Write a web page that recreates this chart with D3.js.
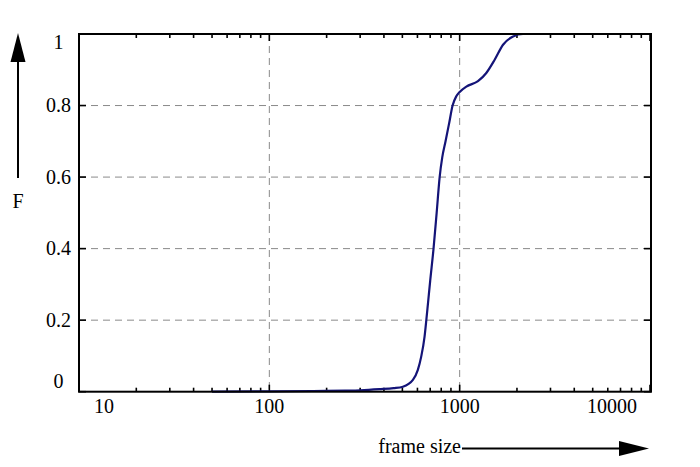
<!DOCTYPE html>
<html>
<head>
<meta charset="utf-8">
<script src="https://cdn.jsdelivr.net/npm/d3@7"></script>
<style>
html,body{margin:0;padding:0;background:#fff;}
svg{display:block;}
text{font-family:"Liberation Serif","Times New Roman",serif;font-size:20px;fill:#000;}
</style>
</head>
<body>
<svg id="chart" width="700" height="467"></svg>
<script>
// ---- data ----
const frameSize = [50, 100, 170, 250, 300, 379, 450, 503, 568, 603, 628, 654, 668, 681, 700, 729, 757, 785, 810, 843, 880, 918, 960, 1000, 1084, 1248, 1380, 1527, 1690, 1907, 2152, 3000, 4500];
const cdf       = [0, 0.001, 0.002, 0.003, 0.004, 0.007, 0.010, 0.014, 0.033, 0.061, 0.098, 0.154, 0.20, 0.245, 0.31, 0.40, 0.50, 0.60, 0.655, 0.70, 0.75, 0.80, 0.826, 0.838, 0.853, 0.868, 0.891, 0.928, 0.970, 0.993, 1.0, 1.0, 1.0];
const xTickValues = [10, 100, 1000, 10000];
const xTickLabels = ["10", "100", "1000", "10000"];
const yTickValues = [0, 0.2, 0.4, 0.6, 0.8, 1];
const yTickLabels = ["0", "0.2", "0.4", "0.6", "0.8", "1"];
const xGrid = [100, 1000];
const yGrid = [0.2, 0.4, 0.6, 0.8];
const xTitle = "frame size";
const yTitle = "F";

(function () {
const svg = d3.select("#chart");
const mL = 79, mR = 651, mT = 34, mB = 391.7;
const x = d3.scaleLog().domain([10, 10000]).range([mL, mR - 1]);
const y = d3.scaleLinear().domain([0, 1]).range([mB, mT]);

// grid
const g = svg.append("g");
g.selectAll("line.gx").data(xGrid).join("line")
  .attr("x1", d => x(d)).attr("x2", d => x(d)).attr("y1", mT).attr("y2", mB)
  .attr("stroke", "#8a8a8a").attr("stroke-width", 1).attr("stroke-dasharray", "7,5");
g.selectAll("line.gy").data(yGrid).join("line")
  .attr("x1", mL).attr("x2", mR).attr("y1", d => y(d)).attr("y2", d => y(d))
  .attr("stroke", "#8a8a8a").attr("stroke-width", 1).attr("stroke-dasharray", "7,5");

// minor + major x ticks (top and bottom)
const xMinor = [];
for (let dec = 10; dec < 10000; dec *= 10) for (let k = 2; k <= 9; k++) xMinor.push(dec * k);
const tk = svg.append("g").attr("stroke", "#000").attr("stroke-width", 1.6);
[[xMinor, 4], [xTickValues, 7]].forEach(([vals, len]) => {
  tk.selectAll(null).data(vals).join("line")
    .attr("x1", d => x(d)).attr("x2", d => x(d)).attr("y1", mB).attr("y2", mB - len);
  tk.selectAll(null).data(vals).join("line")
    .attr("x1", d => x(d)).attr("x2", d => x(d)).attr("y1", mT).attr("y2", mT + len);
});
tk.selectAll(null).data(yTickValues).join("line")
  .attr("x1", mL).attr("x2", mL + 7).attr("y1", d => y(d)).attr("y2", d => y(d));
tk.selectAll(null).data(yTickValues).join("line")
  .attr("x1", mR).attr("x2", mR - 7).attr("y1", d => y(d)).attr("y2", d => y(d));

// curve
const line = d3.line().x(d => x(d[0])).y(d => y(d[1])).curve(d3.curveMonotoneX);
svg.append("path").datum(frameSize.map((v, i) => [v, cdf[i]]))
  .attr("d", line).attr("fill", "none").attr("stroke", "#141478").attr("stroke-width", 2.2)
  .attr("stroke-linejoin", "round");

// frame
svg.append("rect").attr("x", mL).attr("y", mT).attr("width", mR - mL).attr("height", mB - mT)
  .attr("fill", "none").attr("stroke", "#000").attr("stroke-width", 2);

// x tick labels (kept inside frame)
svg.append("g").selectAll("text").data(xTickValues).join("text")
  .text((d, i) => xTickLabels[i])
  .attr("y", 413)
  .attr("text-anchor", "middle")
  .each(function (d) {
    const w = this.getComputedTextLength();
    const cx = Math.max(mL + 15 + w / 2, Math.min(mR - 14 - w / 2, x(d)));
    d3.select(this).attr("x", cx);
  });

// y tick labels (kept inside frame)
svg.append("g").selectAll("text").data(yTickValues).join("text")
  .text((d, i) => yTickLabels[i])
  .attr("x", 58.5).attr("text-anchor", "middle")
  .attr("y", d => Math.max(mT + 8, Math.min(mB - 10, y(d))) + 6.5);

// y axis arrow + title
const ya = svg.append("g");
ya.append("line").attr("x1", 18).attr("x2", 18).attr("y1", 178).attr("y2", mT + 20)
  .attr("stroke", "#000").attr("stroke-width", 2);
ya.append("path").attr("d", `M18,${mT - 1} L25.5,${mT + 28} L10.5,${mT + 28} Z`).attr("fill", "#000");
ya.append("text").text(yTitle).attr("x", 18).attr("y", 208).attr("text-anchor", "middle");

// x axis arrow + title
const xa = svg.append("g");
xa.append("text").text(xTitle).attr("x", 461).attr("y", 453).attr("text-anchor", "end");
xa.append("line").attr("x1", 462).attr("x2", mR - 20).attr("y1", 448.5).attr("y2", 448.5)
  .attr("stroke", "#000").attr("stroke-width", 2);
xa.append("path").attr("d", `M${mR - 2},448.5 L${mR - 32},441 L${mR - 32},456 Z`).attr("fill", "#000");
})();
</script>
</body>
</html>
